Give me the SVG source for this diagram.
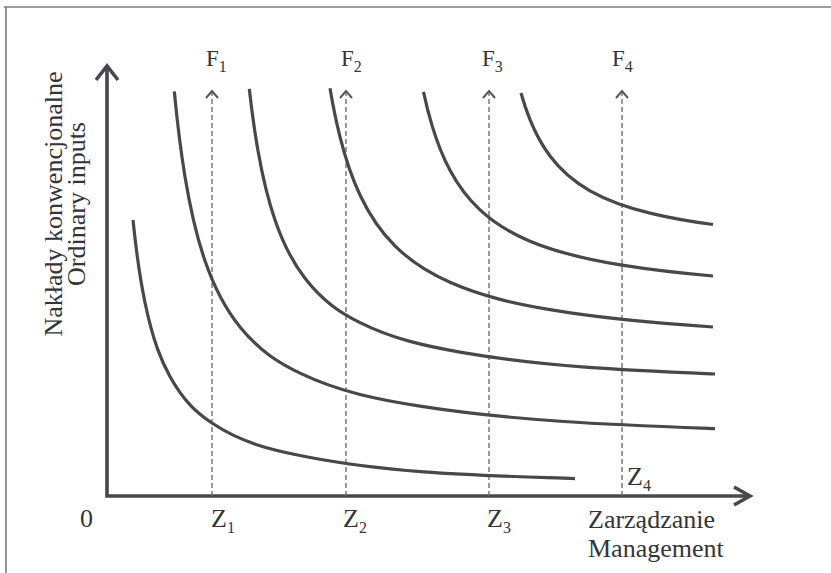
<svg xmlns="http://www.w3.org/2000/svg" width="831" height="573" viewBox="0 0 831 573">
<style>
.frame{fill:none;stroke:#7e7e82;stroke-width:1.6}
.axis{fill:none;stroke:#47474d;stroke-width:3.6;stroke-linejoin:miter}
.curve{fill:none;stroke:#47474d;stroke-width:3.2;stroke-linejoin:round}
.guide{fill:none;stroke:#66666a;stroke-width:1.3;stroke-dasharray:5 3}
.ghead{fill:none;stroke:#55555a;stroke-width:2}
.t{font-family:"Liberation Serif","Times New Roman",serif;fill:#343438;font-size:26px}
.f{font-family:"Liberation Serif","Times New Roman",serif;fill:#343438;font-size:23px}
.s{font-size:16px}
</style>
<rect width="831" height="573" fill="#ffffff"/>
<g id="frame">
<line class="frame" x1="6" y1="7" x2="6" y2="573"/>
<line class="frame" x1="4" y1="7" x2="831" y2="7"/>
</g>
<g id="connectors">
<g id="axes">
<polyline class="axis" points="107,66 107,496 748,496"/>
<polyline class="axis" points="96,80 107,66 118,80"/>
<polyline class="axis" points="734,487 750,496 734,505"/>
</g>
<g id="guides">
<line class="guide" x1="212" y1="496" x2="212" y2="92"/>
<polyline class="ghead" points="206,98 212,91 218,98"/>
<line class="guide" x1="346" y1="496" x2="346" y2="92"/>
<polyline class="ghead" points="340,98 346,91 352,98"/>
<line class="guide" x1="489" y1="496" x2="489" y2="92"/>
<polyline class="ghead" points="483,98 489,91 495,98"/>
<line class="guide" x1="622" y1="496" x2="622" y2="92"/>
<polyline class="ghead" points="616,98 622,91 628,98"/>
</g>
</g>
<g id="curves">
<path id="curveA" class="curve" d="M133,220 C137,259.3 141,283.25 145,302.5 C153.33,342.6 161.67,361.3 170,376.5 C184,402 198,413.6 212,423 C241.33,442.7 270.67,449.6 300,455.5 C391.67,474.1 483.33,475.4 575,478.6"/>
<path id="curveB" class="curve" d="M174.3,91.4 C177.87,128.7 181.43,155.05 185,176.7 C191.67,217.2 198.33,241.4 205,260.8 C216.67,294.8 228.33,312.6 240,327 C260,351.6 280,363.5 300,373.1 C340,392.3 380,399.8 420,406.1 C518.33,421.5 616.67,424.9 715,428.6"/>
<path id="curveC" class="curve" d="M249.3,88.9 C252.2,114.8 255.1,134.3 258,150.8 C263.67,183 269.33,203.5 275,220 C285,249.2 295,265.3 305,278.3 C323.33,302.1 341.67,313.4 360,322.6 C393.33,339.2 426.67,346.3 460,352.1 C545,367 630,370.4 715,374"/>
<path id="curveD" class="curve" d="M330,88.3 C333.33,108.05 336.67,123.6 340,136.8 C346.67,163.25 353.33,180.8 360,195 C371.67,219.9 383.33,234.3 395,245.9 C413.33,264.1 431.67,274.2 450,282.3 C483.33,297 516.67,304 550,309.7 C604.33,319 658.67,323.4 713,327"/>
<path id="curveE" class="curve" d="M423.5,91.8 C426.33,105.1 429.17,116 432,125.4 C438,145.4 444,159.1 450,170.3 C460,189 470,200.6 480,209.9 C496.67,225.4 513.33,234.2 530,241.2 C560.67,254.1 591.33,260.2 622,265.2 C652.33,270.1 682.67,273.4 713,276"/>
<path id="curveF" class="curve" d="M521,93 C524,103.6 527,112.2 530,119.6 C536.67,136.1 543.33,147.1 550,156 C563.33,173.8 576.67,183.2 590,190.8 C610,202.1 630,208.2 650,213.1 C671,218.2 692,221.7 713,224.5"/>
</g>
<g id="labels">
<text class="f" x="206" y="66">F<tspan class="s" dy="6">1</tspan></text>
<text class="f" x="341" y="66">F<tspan class="s" dy="6">2</tspan></text>
<text class="f" x="482" y="66">F<tspan class="s" dy="6">3</tspan></text>
<text class="f" x="612" y="66">F<tspan class="s" dy="6">4</tspan></text>
<text class="t" x="211" y="527">Z<tspan class="s" dy="6">1</tspan></text>
<text class="t" x="343" y="527">Z<tspan class="s" dy="6">2</tspan></text>
<text class="t" x="487" y="527">Z<tspan class="s" dy="6">3</tspan></text>
<text class="t" x="627" y="485">Z<tspan class="s" dy="6">4</tspan></text>
<text class="t" x="80" y="527">0</text>
<text class="t" x="588" y="528">Zarządzanie</text>
<text class="t" x="588" y="557">Management</text>
<text class="t" transform="translate(62,204) rotate(-90)" text-anchor="middle">Nakłady konwencjonalne</text>
<text class="t" transform="translate(85,204) rotate(-90)" text-anchor="middle">Ordinary inputs</text>
</g>
</svg>
